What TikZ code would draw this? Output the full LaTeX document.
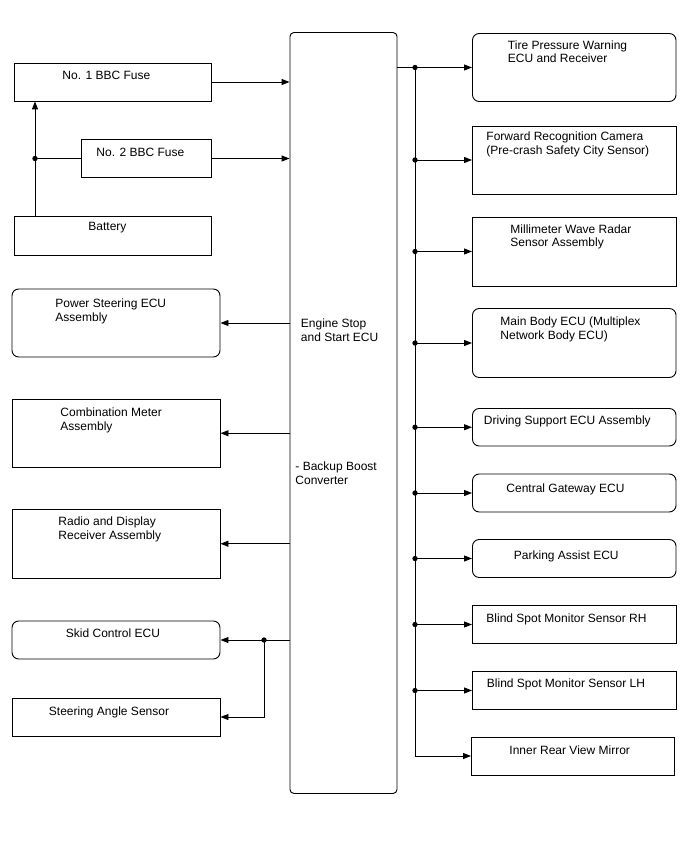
\documentclass[tikz,border=0pt]{standalone}
\usepackage{fontspec}
\setmainfont{Liberation Sans}
\usetikzlibrary{arrows.meta,fit}

\begin{document}
\begin{tikzpicture}[x=0.75pt,y=-0.75pt,>={Triangle[length=6pt,width=4.5pt]},line width=0.7pt,
box/.style={draw,inner sep=0pt},
rbox/.style={box,rounded corners=5pt},
lbl/.style={anchor=base west,inner sep=0pt,align=left,font=\fontsize{9}{10.2}\selectfont},
dot/.style={circle,fill=black,inner sep=0pt,minimum size=4pt}]
\useasboundingbox (0,0) rectangle (688,852);
% central unit (two-line labels sit on their last baseline)
\node[box,rounded corners=3pt,fit={(290,32.5) (397,793.5)}] (ecu) {};
\node[lbl] (ecut) at (300.5,341.5) {Engine Stop\\and Start ECU};
\node[lbl] (bbc) at (295,484) {- Backup Boost\\Converter};
% left side
\node[box,fit={(14,63) (211,101)}] (fuse1) {};
\node[lbl] (fuse1t) at (62,79.5) {No. 1 BBC Fuse};
\node[box,fit={(81,139.5) (211,177.5)}] (fuse2) {};
\node[lbl] (fuse2t) at (96,156.5) {No. 2 BBC Fuse};
\node[box,fit={(14,216.5) (211,255.5)}] (batt) {};
\node[lbl] (battt) at (88,230.5) {Battery};
\node[rbox,fit={(12,289) (220,357)}] (pse) {};
\node[lbl] (pset) at (55,321.5) {Power Steering ECU\\Assembly};
\node[box,fit={(12,399) (220,467.5)}] (cma) {};
\node[lbl] (cmat) at (60,430.5) {Combination Meter\\Assembly};
\node[box,fit={(12,509.5) (220,578)}] (rdr) {};
\node[lbl] (rdrt) at (58,539) {Radio and Display\\Receiver Assembly};
\node[rbox,fit={(12,621) (220,659)}] (skid) {};
\node[lbl] (skidt) at (65.5,637) {Skid Control ECU};
\node[box,fit={(12,698) (220,736)}] (sas) {};
\node[lbl] (sast) at (48.5,715.5) {Steering Angle Sensor};
% right side
\node[rbox,fit={(472.5,33.5) (676,101.5)}] (tpw) {};
\node[lbl] (tpwt) at (507.5,63) {Tire Pressure Warning\\ECU and Receiver};
\node[box,fit={(472.5,126) (676,194)}] (frc) {};
\node[lbl] (frct) at (486,154.5) {Forward Recognition Camera\\(Pre-crash Safety City Sensor)};
\node[box,fit={(472.5,217) (676,286)}] (mwr) {};
\node[lbl] (mwrt) at (510,247) {Millimeter Wave Radar\\Sensor Assembly};
\node[rbox,fit={(472.5,308.5) (676,377.5)}] (mbe) {};
\node[lbl] (mbet) at (500,339.5) {Main Body ECU (Multiplex\\Network Body ECU)};
\node[rbox,fit={(472.5,408.5) (676,446)}] (dse) {};
\node[lbl] (dset) at (483.5,424.5) {Driving Support ECU Assembly};
\node[rbox,fit={(472.5,474) (676,512)}] (cgw) {};
\node[lbl] (cgwt) at (506,492.5) {Central Gateway ECU};
\node[rbox,fit={(472.5,539.5) (676,577.5)}] (pae) {};
\node[lbl] (paet) at (513.5,559) {Parking Assist ECU};
\node[box,fit={(472.5,605.5) (676,643.5)}] (bsr) {};
\node[lbl] (bsrt) at (486,622) {Blind Spot Monitor Sensor RH};
\node[box,fit={(472.5,671.5) (676,709.5)}] (bsl) {};
\node[lbl] (bslt) at (486.5,687) {Blind Spot Monitor Sensor LH};
\node[box,fit={(471.5,737) (674.5,775)}] (irv) {};
\node[lbl] (irvt) at (509,754) {Inner Rear View Mirror};
% battery feed
\coordinate (j1) at (35,158.5);
\draw[->] (j1 |- batt.north) -- (j1 |- fuse1.south);
\draw (j1) -- (fuse2.west);
\node[dot] (d1) at (j1) {};
\draw[->] (fuse1.east) -- (fuse1.east -| ecu.west);
\draw[->] (fuse2.east) -- (fuse2.east -| ecu.west);
% outputs to the left
\draw[->] (ecu.west |- pse.east) -- (pse.east);
\draw[->] (ecu.west |- cma.east) -- (cma.east);
\draw[->] (ecu.west |- rdr.east) -- (rdr.east);
\coordinate (j2) at (264,640);
\draw (ecu.west |- j2) -- (j2);
\draw[->] (j2) -- (skid.east);
\draw[->] (j2) |- (sas.east);
\node[dot] (d2) at (j2) {};
% bus to the right
\coordinate (bus) at (415,67.5);
\draw (ecu.east |- tpw.west) -- (bus) -- (bus |- irv.west);
\draw[->] (bus |- tpw.west) -- (tpw.west);
\draw[->] (bus |- frc.west) -- (frc.west);
\draw[->] (bus |- mwr.west) -- (mwr.west);
\draw[->] (bus |- mbe.west) -- (mbe.west);
\draw[->] (bus |- dse.west) -- (dse.west);
\draw[->] (bus |- cgw.west) -- (cgw.west);
\draw[->] (bus |- pae.west) -- (pae.west);
\draw[->] (bus |- bsr.west) -- (bsr.west);
\draw[->] (bus |- bsl.west) -- (bsl.west);
\draw[->] (bus |- irv.west) -- (irv.west);
\node[dot] (b1) at (bus |- tpw.west) {};
\node[dot] (b2) at (bus |- frc.west) {};
\node[dot] (b3) at (bus |- mwr.west) {};
\node[dot] (b4) at (bus |- mbe.west) {};
\node[dot] (b5) at (bus |- dse.west) {};
\node[dot] (b6) at (bus |- cgw.west) {};
\node[dot] (b7) at (bus |- pae.west) {};
\node[dot] (b8) at (bus |- bsr.west) {};
\node[dot] (b9) at (bus |- bsl.west) {};
\end{tikzpicture}
\end{document}
